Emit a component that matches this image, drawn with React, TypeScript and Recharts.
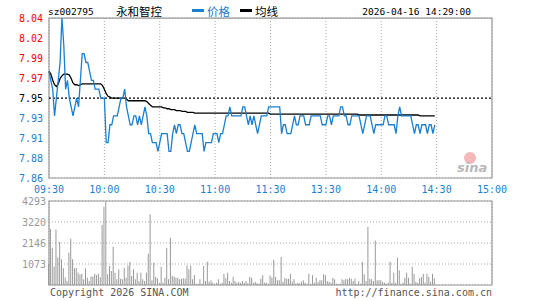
import React from 'react';
import {
    LineChart,
    Line,
    BarChart,
    Bar,
    XAxis,
    YAxis,
    CartesianGrid,
    ReferenceLine,
    ReferenceArea
} from 'recharts';

const prevClose = 7.95;

const timeTicks = [0, 30, 60, 90, 120, 150, 180, 210, 240];
const timeLabels = ['09:30', '10:00', '10:30', '11:00', '11:30', '13:30', '14:00', '14:30', '15:00'];

const pctSteps = [-1.13, -0.85, -0.57, -0.28, 0, 0.28, 0.57, 0.85, 1.13];
const priceLabels = ['7.86', '7.88', '7.91', '7.93', '7.95', '7.97', '7.99', '8.02', '8.04'];
const pctLabels = ['-1.13%', '-0.85%', '-0.57%', '-0.28%', '0.00%', '+0.28%', '+0.57%', '+0.85%', '+1.13%'];

const volTicks = [1073, 2146, 3220, 4293];
const volLabels = ['1073', '2146', '3220', '4293'];

// one value per minute, 09:30 .. 11:29 then 13:00 .. 14:29
const prices = [
    7.98, 7.97, 7.96, 7.93, 7.95, 7.97, 7.99, 8.04, 8.01, 7.96,
    7.97, 7.95, 7.94, 7.93, 7.94, 7.95, 7.94, 7.97, 8.00, 8.00,
    7.99, 7.99, 7.98, 7.97, 7.97, 7.96, 7.96, 7.96, 7.95, 7.95,
    7.95, 7.90, 7.90, 7.92, 7.92, 7.93, 7.93, 7.93, 7.94, 7.95,
    7.95, 7.96, 7.94, 7.93, 7.92, 7.92, 7.93, 7.93, 7.92, 7.93,
    7.92, 7.93, 7.94, 7.93, 7.91, 7.91, 7.90, 7.90, 7.90, 7.89,
    7.90, 7.91, 7.91, 7.91, 7.91, 7.89, 7.89, 7.91, 7.92, 7.91,
    7.92, 7.92, 7.91, 7.91, 7.90, 7.89, 7.89, 7.90, 7.91, 7.92,
    7.91, 7.91, 7.91, 7.91, 7.89, 7.90, 7.90, 7.90, 7.90, 7.91,
    7.91, 7.91, 7.90, 7.91, 7.91, 7.92, 7.93, 7.93, 7.94, 7.93,
    7.93, 7.93, 7.93, 7.93, 7.93, 7.94, 7.94, 7.93, 7.92, 7.93,
    7.92, 7.93, 7.92, 7.91, 7.92, 7.93, 7.93, 7.93, 7.93, 7.94,
    7.94, 7.94, 7.94, 7.94, 7.94, 7.94, 7.91, 7.92, 7.92, 7.91,
    7.91, 7.91, 7.92, 7.93, 7.92, 7.92, 7.93, 7.93, 7.93, 7.92,
    7.92, 7.92, 7.93, 7.93, 7.93, 7.93, 7.93, 7.93, 7.92, 7.92,
    7.92, 7.93, 7.93, 7.92, 7.93, 7.93, 7.93, 7.93, 7.94, 7.94,
    7.93, 7.93, 7.92, 7.92, 7.93, 7.93, 7.93, 7.93, 7.93, 7.92,
    7.91, 7.92, 7.93, 7.93, 7.93, 7.92, 7.91, 7.92, 7.92, 7.92,
    7.92, 7.92, 7.93, 7.93, 7.92, 7.92, 7.92, 7.92, 7.91, 7.93,
    7.94, 7.93, 7.93, 7.93, 7.93, 7.93, 7.93, 7.92, 7.91, 7.92,
    7.92, 7.91, 7.92, 7.92, 7.92, 7.91, 7.92, 7.92, 7.91, 7.92
];

const avgLine = [
    7.980, 7.977, 7.970, 7.965, 7.963, 7.966, 7.972, 7.975, 7.977, 7.977,
    7.977, 7.976, 7.972, 7.967, 7.965, 7.965, 7.964, 7.965, 7.966, 7.966,
    7.966, 7.966, 7.966, 7.966, 7.966, 7.966, 7.966, 7.966, 7.966, 7.964,
    7.960, 7.955, 7.952, 7.951, 7.950, 7.950, 7.950, 7.950, 7.950, 7.950,
    7.950, 7.950, 7.949, 7.947, 7.947, 7.947, 7.947, 7.947, 7.947, 7.947,
    7.947, 7.947, 7.947, 7.946, 7.944, 7.942, 7.940, 7.940, 7.940, 7.940,
    7.940, 7.940, 7.939, 7.939, 7.938, 7.938, 7.937, 7.937, 7.937, 7.936,
    7.936, 7.936, 7.935, 7.935, 7.935, 7.934, 7.934, 7.934, 7.934, 7.933,
    7.933, 7.933, 7.933, 7.933, 7.933, 7.933, 7.933, 7.933, 7.933, 7.933,
    7.933, 7.933, 7.933, 7.933, 7.933, 7.933, 7.933, 7.933, 7.933, 7.933,
    7.933, 7.933, 7.933, 7.933, 7.933, 7.933, 7.933, 7.933, 7.933, 7.933,
    7.933, 7.933, 7.933, 7.933, 7.933, 7.933, 7.933, 7.933, 7.933, 7.933,
    7.932, 7.932, 7.932, 7.932, 7.932, 7.932, 7.932, 7.932, 7.932, 7.932,
    7.932, 7.932, 7.932, 7.932, 7.932, 7.932, 7.932, 7.932, 7.932, 7.932,
    7.932, 7.932, 7.932, 7.932, 7.932, 7.932, 7.932, 7.932, 7.932, 7.932,
    7.932, 7.932, 7.932, 7.932, 7.932, 7.932, 7.932, 7.932, 7.932, 7.932,
    7.932, 7.932, 7.932, 7.932, 7.932, 7.932, 7.932, 7.932, 7.931, 7.931,
    7.931, 7.931, 7.931, 7.931, 7.931, 7.931, 7.931, 7.931, 7.931, 7.931,
    7.931, 7.931, 7.931, 7.931, 7.931, 7.931, 7.931, 7.931, 7.931, 7.931,
    7.931, 7.931, 7.931, 7.931, 7.931, 7.931, 7.931, 7.931, 7.931, 7.931,
    7.931, 7.930, 7.930, 7.930, 7.930, 7.930, 7.930, 7.930, 7.930, 7.930
];

const volumes = [
    1090, 2860, 1900, 940, 2840, 1400, 2210, 1310, 850, 380,
    200, 1650, 2370, 1310, 850, 870, 630, 540, 580, 290,
    850, 375, 200, 440, 440, 580, 510, 580, 400, 3066,
    4000, 4293, 545, 970, 715, 1958, 630, 290, 800, 323,
    290, 885, 375, 1000, 1190, 460, 800, 290, 630, 200,
    630, 290, 200, 630, 1600, 3610, 240, 1140, 425, 340,
    120, 935, 120, 375, 1907, 290, 2418, 460, 425, 375,
    375, 290, 323, 340, 323, 1000, 800, 1000, 290, 510,
    70, 70, 290, 70, 970, 200, 1190, 170, 240, 120,
    70, 120, 290, 70, 120, 580, 340, 630, 200, 120,
    425, 200, 120, 170, 100, 200, 120, 200, 85, 425,
    375, 120, 150, 85, 70, 323, 493, 120, 120, 70,
    490, 380, 1290, 425, 240, 240, 1445, 170, 375, 323,
    323, 578, 170, 290, 70, 120, 85, 170, 240, 120,
    70, 578, 70, 493, 120, 375, 150, 240, 240, 545,
    493, 200, 170, 120, 375, 290, 70, 70, 70, 290,
    240, 323, 290, 375, 323, 200, 323, 70, 200, 70,
    1190, 545, 200, 2960, 323, 290, 200, 2280, 240, 240,
    240, 150, 120, 70, 120, 1190, 120, 630, 120, 1395,
    750, 70, 120, 375, 630, 375, 70, 935, 580, 170,
    120, 340, 410, 580, 120, 580, 410, 170, 580, 340
];

const RED = '#ff0000';
const BLUE = '#1a7fd0';
const GRAY = '#999999';
const MONO = '"DejaVu Sans Mono", "Liberation Mono", monospace';
const CJK = '"Noto Sans CJK SC", "Noto Sans", sans-serif';

const priceTicks = pctSteps.map((p) => prevClose * (1 + p / 100));
const priceDomain = [priceTicks[0], priceTicks[priceTicks.length - 1]];

const priceData = prices.map((p, i) => ({ m: i, price: p, avg: avgLine[i] }));
const volData = volumes.map((v, i) => ({ m: i, vol: v }));

const nearestIndex = (ticks: number[], v: number) => {
    let best = 0;
    ticks.forEach((t, i) => {
        if (Math.abs(t - v) < Math.abs(ticks[best] - v)) best = i;
    });
    return best;
};

const colorFor = (i: number) => (pctSteps[i] > 0 ? RED : pctSteps[i] < 0 ? BLUE : '#000');

const PriceTick = ({ x, y, payload }: any) => {
    const i = nearestIndex(priceTicks, payload.value);
    return (
        <text x={x} y={y} dy={4} textAnchor="end" fontFamily={MONO} fontSize={10} fill={colorFor(i)}>
            {priceLabels[i]}
        </text>
    );
};

const PctTick = ({ x, y, payload }: any) => {
    const i = nearestIndex(priceTicks, payload.value);
    return (
        <text x={x} y={y} dy={4} textAnchor="start" fontFamily={MONO} fontSize={10.5} fill={colorFor(i)}>
            {pctLabels[i]}
        </text>
    );
};

const TimeTick = ({ x, y, payload }: any) => {
    const i = timeTicks.indexOf(payload.value);
    return (
        <text x={x} y={y} dy={13} textAnchor="middle" fontFamily={MONO} fontSize={10} fill={BLUE}>
            {timeLabels[i]}
        </text>
    );
};

const VolTick = ({ x, y, payload }: any) => {
    const i = nearestIndex(volTicks, payload.value);
    return (
        <text x={x} y={y} dy={4} textAnchor="end" fontFamily={MONO} fontSize={10} fill={GRAY}>
            {volLabels[i]}
        </text>
    );
};

export default function App() {
    return (
        <div style={{ position: 'absolute', left: 0, top: 0, width: 545, height: 300, background: '#fff' }}>
            <div style={{ position: 'absolute', left: 0, top: 0 }}>
                <LineChart width={545} height={194} data={priceData} margin={{ top: 18, right: 0, bottom: 0, left: 0 }}>
                    <CartesianGrid stroke="#aaa" strokeDasharray="1 2" />
                    <XAxis
                        type="number"
                        dataKey="m"
                        domain={[0, 240]}
                        ticks={timeTicks}
                        interval={0}
                        height={16}
                        tickLine={false}
                        axisLine={false}
                        tickSize={0}
                        tick={<TimeTick />}
                    />
                    <YAxis
                        yAxisId="l"
                        orientation="left"
                        width={49}
                        domain={priceDomain}
                        ticks={priceTicks}
                        interval={0}
                        tickLine={false}
                        axisLine={false}
                        tickSize={0}
                        tickMargin={6}
                        tick={<PriceTick />}
                    />
                    <YAxis
                        yAxisId="r"
                        orientation="right"
                        width={53}
                        domain={priceDomain}
                        ticks={priceTicks}
                        interval={0}
                        tickLine={false}
                        axisLine={false}
                        tickSize={0}
                        tickMargin={3}
                        tick={<PctTick />}
                    />
                    <ReferenceArea yAxisId="l" x1={0} x2={240} y1={priceDomain[0]} y2={priceDomain[1]} fill="none" stroke={GRAY} strokeWidth={1.2} />
                    <ReferenceLine yAxisId="l" y={prevClose} stroke="#000" strokeDasharray="2 2" strokeWidth={1.2} />
                    <Line yAxisId="l" type="linear" dataKey="avg" stroke="#000" strokeWidth={1.3} dot={false} isAnimationActive={false} />
                    <Line yAxisId="l" type="linear" dataKey="price" stroke={BLUE} strokeWidth={1.3} dot={false} isAnimationActive={false} />
                </LineChart>
            </div>
            <div style={{ position: 'absolute', left: 0, top: 194 }}>
                <BarChart width={545} height={106} data={volData} margin={{ top: 7, right: 53, bottom: 0, left: 0 }}>
                    <CartesianGrid stroke="#aaa" strokeDasharray="1 2" />
                    <XAxis type="number" dataKey="m" domain={[0, 240]} ticks={timeTicks} interval={0} height={15} tick={false} tickLine={false} axisLine={false} />
                    <YAxis
                        width={49}
                        domain={[0, 4293]}
                        ticks={volTicks}
                        interval={0}
                        tickLine={false}
                        axisLine={false}
                        tickSize={0}
                        tickMargin={3}
                        tick={<VolTick />}
                    />
                    <Bar dataKey="vol" fill={GRAY} barSize={1} isAnimationActive={false} />
                    <ReferenceArea x1={0} x2={240} y1={0} y2={4293} fill="none" stroke={GRAY} strokeWidth={1.2} />
                </BarChart>
            </div>
            <svg width={545} height={300} style={{ position: 'absolute', left: 0, top: 0, pointerEvents: 'none' }}>
                <text x={48} y={15} fontFamily={MONO} fontSize={9.5} fill="#000">sz002795</text>
                <text x={116} y={16} fontFamily={CJK} fontSize={11.5} fill="#000">永和智控</text>
                <rect x={192} y={9} width={12} height={3} fill={BLUE} />
                <text x={207} y={16} fontFamily={CJK} fontSize={11.5} fill={BLUE}>价格</text>
                <rect x={240} y={9} width={12} height={3} fill="#000" />
                <text x={255} y={16} fontFamily={CJK} fontSize={11.5} fill="#000">均线</text>
                <text x={471} y={15} textAnchor="end" fontFamily={MONO} fontSize={9.5} fill="#000">2026-04-16 14:29:00</text>
                <circle cx={470} cy={158} r={6} fill="#f4b8b8" />
                <text x={457} y={172} fontFamily="DejaVu Sans" fontStyle="italic" fontWeight="bold" fontSize={13} fill="#b8b8b8">sina</text>
                <text x={50} y={296} fontFamily={MONO} fontSize={10} fill="#555">Copyright 2026 SINA.COM</text>
                <text x={492} y={296} textAnchor="end" fontFamily={MONO} fontSize={10} fill="#555">http://finance.sina.com.cn</text>
            </svg>
        </div>
    );
}
